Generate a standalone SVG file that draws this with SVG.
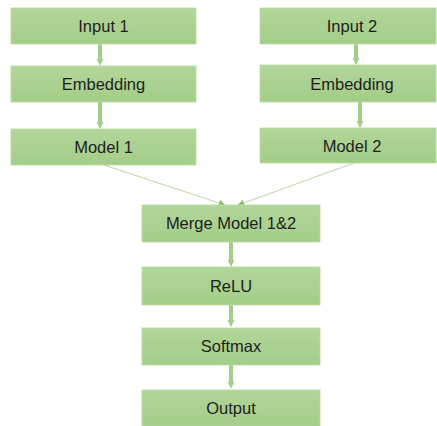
<svg xmlns="http://www.w3.org/2000/svg" width="437" height="426" viewBox="0 0 437 426">
<defs>
<linearGradient id="g" x1="0" y1="0" x2="0" y2="1">
<stop offset="0" stop-color="#b2d69a"/>
<stop offset="1" stop-color="#a3cd88"/>
</linearGradient>
<marker id="ah" viewBox="0 0 10 10" refX="9" refY="5" markerWidth="7" markerHeight="7" markerUnits="userSpaceOnUse" orient="auto">
<path d="M0,0 L10,5 L0,10 z" fill="#8fbf6e"/>
</marker>
<marker id="vh" viewBox="0 0 10 10" refX="9" refY="5" markerWidth="2" markerHeight="2" orient="auto">
<path d="M0,0 L10,5 L0,10 z" fill="#9cc87d"/>
</marker>
</defs>
<style>
.box{fill:url(#g);stroke:#b8dba2;stroke-width:0.8}
.lbl{font-family:"Liberation Sans",Arial,sans-serif;font-size:16.5px;fill:#1e1e1e;text-anchor:middle}
.v{stroke:#a3cd88;stroke-width:4;fill:none}
.d{stroke:#b9d7a4;stroke-width:1;fill:none}
</style>
<g id="connectors">
<path class="v" d="M100,44 V60" />
<path d="M96.5,59 L103.5,59 L100,66 z" fill="#a3cd88"/>
<path class="v" d="M100,102 V123" />
<path d="M96.5,122 L103.5,122 L100,129 z" fill="#a3cd88"/>
<path class="v" d="M356,44 V59" />
<path d="M352.5,58 L359.5,58 L356,65 z" fill="#a3cd88"/>
<path class="v" d="M360,102 V122" />
<path d="M356.5,121 L363.5,121 L360,128 z" fill="#a3cd88"/>
<path class="d" d="M104,165 L225,205" marker-end="url(#ah)"/>
<path class="d" d="M354,163 L238,205" marker-end="url(#ah)"/>
<path class="v" d="M231,242 V261" />
<path d="M227.5,260 L234.5,260 L231,267 z" fill="#a3cd88"/>
<path class="v" d="M231,305 V321" />
<path d="M227.5,320 L234.5,320 L231,327 z" fill="#a3cd88"/>
<path class="v" d="M231,365 V383" />
<path d="M227.5,382 L234.5,382 L231,389 z" fill="#a3cd88"/>
</g>
<g id="input1"><rect class="box" x="11" y="8" width="185" height="36"/><text class="lbl" x="103.5" y="32">Input 1</text></g>
<g id="embedding1"><rect class="box" x="11" y="66" width="185" height="36"/><text class="lbl" x="103.5" y="90">Embedding</text></g>
<g id="model1"><rect class="box" x="11" y="129" width="185" height="36"/><text class="lbl" x="103.5" y="153">Model 1</text></g>
<g id="input2"><rect class="box" x="260" y="8" width="176" height="36"/><text class="lbl" x="352" y="32">Input 2</text></g>
<g id="embedding2"><rect class="box" x="260" y="65" width="176" height="37"/><text class="lbl" x="352" y="90">Embedding</text></g>
<g id="model2"><rect class="box" x="260" y="128" width="176" height="35"/><text class="lbl" x="352" y="152">Model 2</text></g>
<g id="merge"><rect class="box" x="142" y="205" width="178" height="37"/><text class="lbl" x="231" y="229">Merge Model 1&amp;2</text></g>
<g id="relu"><rect class="box" x="142" y="267" width="178" height="38"/><text class="lbl" x="231" y="292">ReLU</text></g>
<g id="softmax"><rect class="box" x="142" y="328" width="178" height="37"/><text class="lbl" x="231" y="352">Softmax</text></g>
<g id="output"><rect class="box" x="142" y="390" width="178" height="36"/><text class="lbl" x="231" y="414">Output</text></g>
</svg>
